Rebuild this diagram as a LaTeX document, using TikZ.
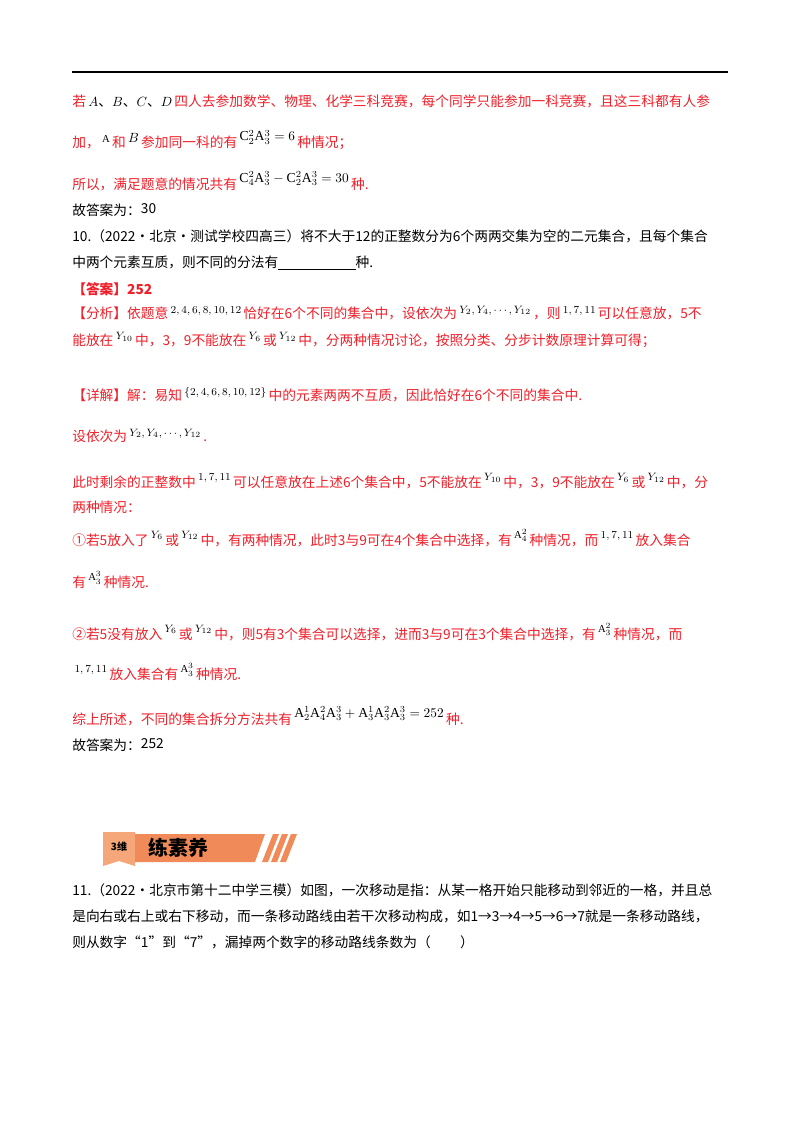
\documentclass[tikz,border=0pt]{standalone}
\usepackage{fontspec}
\setmainfont{Liberation Serif}
\newfontfamily\cjk{Noto Sans CJK SC}
\definecolor{rd}{HTML}{F0202A}
\definecolor{org}{HTML}{F08A58}
\definecolor{orgl}{HTML}{F5A77A}
\tikzset{ln/.style={anchor=west,inner sep=0pt,font=\fontsize{10.3}{12}\selectfont\cjk},
 r/.style={ln,text=rd}}
\newcommand\mA{\mathrm{A}}\newcommand\mC{\mathrm{C}}
\newcommand\mq[2]{\textcolor{black}{\,\raisebox{#1}{\footnotesize$#2$}\,}}
\newcommand\mb[2]{\textcolor{black}{\,\raisebox{#1}{$#2$}\,}}
\begin{document}
\begin{tikzpicture}[x=0.75pt,y=-0.75pt]
\useasboundingbox (0,0) rectangle (800,1132);
\fill[white] (0,0) rectangle (800,1132);
\draw[line width=1.2pt] (72,72) -- (728,72);
\node[r] (l1) at (72,101) {若\textcolor{black}{\,$A$、$B$、$C$、$D$\,}四人去参加数学、物理、化学三科竞赛，每个同学只能参加一科竞赛，且这三科都有人参};
\node[r] (l2) at (72,140) {加，\mq{4pt}{\mathrm{A}}和\mb{4pt}{B}参加同一科的有\mb{5pt}{\mC_2^2\mA_3^3=6}种情况；};
\node[r] (l3) at (72,181) {所以，满足题意的情况共有\mb{5pt}{\mC_4^2\mA_3^3-\mC_2^2\mA_3^3=30}种.};
\node[ln] (l4) at (72,210) {故答案为：\raisebox{1pt}{30}};
\node[ln] (l5) at (72,236) {10.（2022·北京·测试学校四高三）将不大于12的正整数分为6个两两交集为空的二元集合，且每个集合};
\node[ln] (l6) at (72,263) {中两个元素互质，则不同的分法有\underline{\hspace{58pt}}种.};
\node[r,font=\fontsize{10.3}{12}\selectfont\cjk\bfseries] (l7) at (72,289) {【答案】252};
\node[r] (l8) at (72,313) {【分析】依题意\mq{4pt}{2,4,6,8,10,12}恰好在6个不同的集合中，设依次为\mq{4pt}{Y_2,Y_4,\cdots,Y_{12}}，则\mq{4pt}{1,7,11}可以任意放，5不};
\node[r] (l9) at (72,340) {能放在\mq{4pt}{Y_{10}}中，3，9不能放在\mq{4pt}{Y_6}或\mq{4pt}{Y_{12}}中，分两种情况讨论，按照分类、分步计数原理计算可得；};
\node[r] (l10) at (72,395) {【详解】解：易知\mq{4pt}{\{2,4,6,8,10,12\}}中的元素两两不互质，因此恰好在6个不同的集合中.};
\node[r] (l11) at (72,436) {设依次为\mq{4pt}{Y_2,Y_4,\cdots,Y_{12}}.};
\node[r] (l12) at (72,481) {此时剩余的正整数中\mq{5pt}{1,7,11}可以任意放在上述6个集合中，5不能放在\mq{5pt}{Y_{10}}中，3，9不能放在\mq{5pt}{Y_6}或\mq{5pt}{Y_{12}}中，分};
\node[r] (l13) at (72,507) {两种情况：};
\node[r] (l14) at (72,538) {①若5放入了\mq{5pt}{Y_6}或\mq{5pt}{Y_{12}}中，有两种情况，此时3与9可在4个集合中选择，有\mq{5pt}{\mA_4^2}种情况，而\mq{5pt}{1,7,11}放入集合};
\node[r] (l15) at (72,580) {有\mq{5pt}{\mA_3^3}种情况.};
\node[r] (l16) at (72,632) {②若5没有放入\mq{5pt}{Y_6}或\mq{5pt}{Y_{12}}中，则5有3个集合可以选择，进而3与9可在3个集合中选择，有\mq{5pt}{\mA_3^2}种情况，而};
\node[r] (l17) at (72,672) {\mq{5pt}{1,7,11}放入集合有\mq{5pt}{\mA_3^3}种情况.};
\node[r] (l18) at (72,716) {综上所述，不同的集合拆分方法共有\mb{5pt}{\mA_2^1\mA_4^2\mA_3^3+\mA_3^1\mA_3^2\mA_3^3=252}种.};
\node[ln] (l19) at (72,745) {故答案为：\raisebox{1pt}{252}};
% banner
\fill[orgl] (103,832) -- (135,832) -- (135,866) -- (119,861) -- (103,866) -- cycle;
\fill[org] (135,834) -- (265,834) -- (255,862) -- (135,862) -- cycle;
\foreach \d in {0,9,18}{\fill[org] (262+\d,862) -- (268+\d,862) -- (279+\d,834) -- (273+\d,834) -- cycle;}
\node[anchor=center,inner sep=0pt,font=\fontsize{7.5}{8}\selectfont\cjk\bfseries] (b1) at (119,847) {3维};
\node[anchor=west,inner sep=0pt,font=\fontsize{15}{16}\selectfont\cjk\bfseries] (b2) at (148,848) {练素养};
\node[ln] (l20) at (72,890) {11.（2022·北京市第十二中学三模）如图，一次移动是指：从某一格开始只能移动到邻近的一格，并且总};
\node[ln] (l21) at (72,916) {是向右或右上或右下移动，而一条移动路线由若干次移动构成，如1→3→4→5→6→7就是一条移动路线，};
\node[ln] (l22) at (72,942) {则从数字“1”到“7”，漏掉两个数字的移动路线条数为（\hspace{22pt}）};
\end{tikzpicture}
\end{document}
